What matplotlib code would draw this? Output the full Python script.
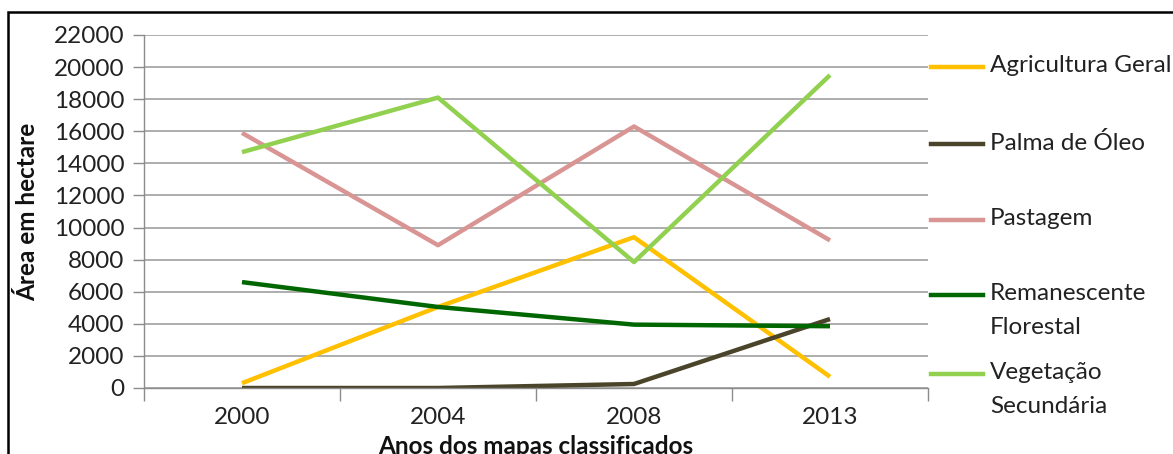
import matplotlib.pyplot as plt
from matplotlib.lines import Line2D
from matplotlib.patches import Rectangle

years = ["2000", "2004", "2008", "2013"]
agricultura = [300, 5050, 9400, 700]
palma = [0, 0, 250, 4300]
pastagem = [15900, 8900, 16300, 9200]
remanescente = [6600, 5050, 3950, 3850]
vegetacao = [14700, 18100, 7850, 19500]

names = ["Agricultura Geral", "Palma de Óleo", "Pastagem",
         "Remanescente\nFlorestal", "Vegetação\nSecundária"]
colors = ["#FFC000", "#4A452A", "#D99594", "#006600", "#92D050"]
series = [agricultura, palma, pastagem, remanescente, vegetacao]

plt.rcParams['font.family'] = ['Lato', 'DejaVu Sans']

W, H = 1173, 454
fig = plt.figure(figsize=(W / 100, H / 100), dpi=100)
ax = fig.add_axes([144 / W, 1 - 388 / H, (928 - 144) / W, (388 - 35) / H])

x = range(len(years))
for vals, c in zip(series, colors):
    ax.plot(x, vals, color=c, linewidth=3.2, solid_capstyle='butt')

ax.set_xlim(-0.5, 3.5)
ax.set_ylim(0, 22000)
ax.set_yticks(range(0, 22001, 2000))
ax.set_yticklabels([str(v) for v in range(0, 22001, 2000)], fontsize=17.5, color='#222222')
ax.set_xticks([-0.5, 0.5, 1.5, 2.5, 3.5])
ax.set_xticklabels([])
ax.set_xticks(list(x), minor=True)
ax.set_xticklabels(years, minor=True, fontsize=17.5, color='#222222')
ax.tick_params(axis='x', which='minor', length=0, pad=14)
ax.tick_params(axis='x', which='major', length=9, color='#8C8C8C', width=1)
ax.tick_params(axis='y', length=8, color='#8C8C8C', width=1, pad=6)
ax.grid(axis='y', color='#A0A0A0', linewidth=1.2)
ax.set_axisbelow(True)
for s in ['top', 'right']:
    ax.spines[s].set_visible(False)
for s in ['left', 'bottom']:
    ax.spines[s].set_color('#8C8C8C')
    ax.spines[s].set_linewidth(1)

fig.text(28 / W, 1 - 212 / H, "Área em hectare", rotation=90, fontsize=17.5,
         fontweight='bold', ha='center', va='center', color='#111111')
fig.text(536 / W, 1 - 446 / H, "Anos dos mapas classificados", fontsize=17.5,
         fontweight='bold', ha='center', va='center', color='#111111')

# legend
legend_y = [67, 144, 220, 295, 374]
for yy, c, name in zip(legend_y, colors, names):
    fig.add_artist(Line2D([931 / W, 983 / W], [1 - yy / H, 1 - yy / H],
                          color=c, linewidth=3.2, transform=fig.transFigure))
    fig.text(990 / W, 1 - (yy - 12) / H, name, fontsize=17.5, va='top',
             ha='left', color='#222222', linespacing=1.75)

fig.add_artist(Rectangle((7.5 / W, -0.1), 1.2, 1.1 - 12.5 / H, fill=False,
                         edgecolor='black', linewidth=1.8,
                         transform=fig.transFigure))

fig.savefig("out.png", dpi=100)
